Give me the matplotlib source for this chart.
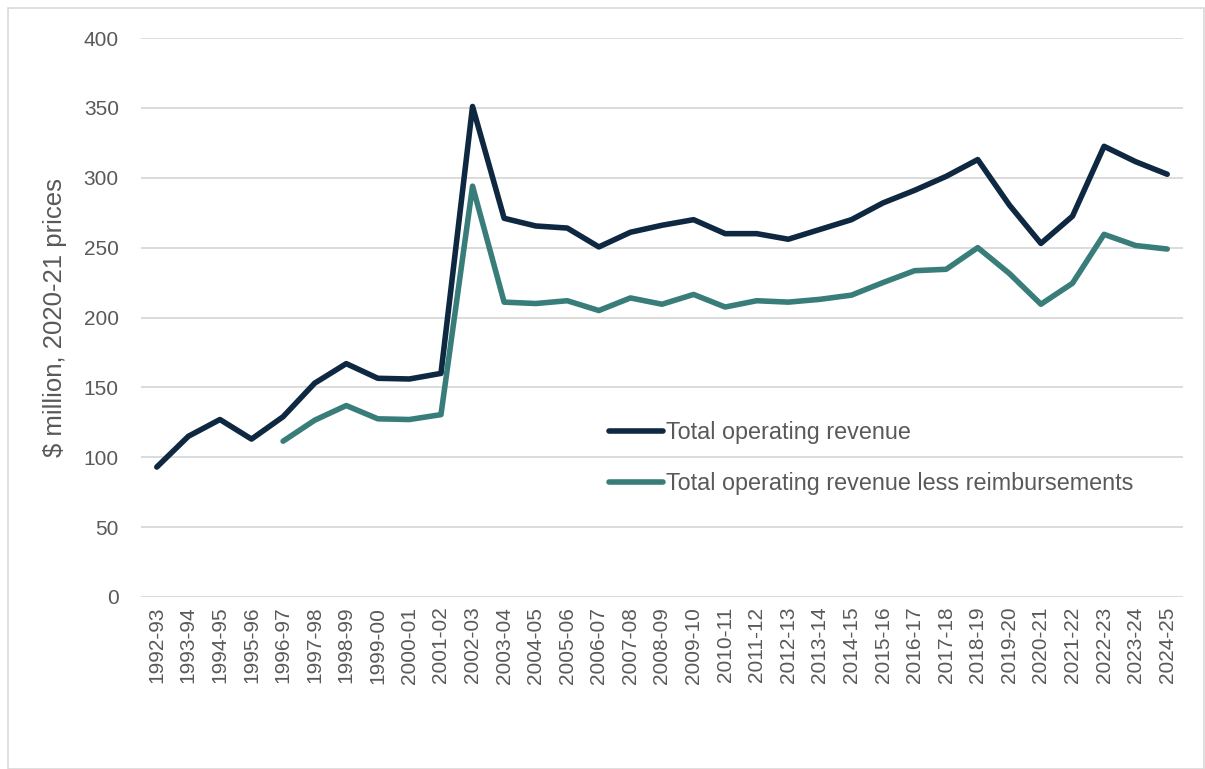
import matplotlib
matplotlib.use("Agg")
import matplotlib.pyplot as plt
from matplotlib.patches import Rectangle
import numpy as np

years = ["1992-93", "1993-94", "1994-95", "1995-96", "1996-97", "1997-98", "1998-99",
         "1999-00", "2000-01", "2001-02", "2002-03", "2003-04", "2004-05", "2005-06",
         "2006-07", "2007-08", "2008-09", "2009-10", "2010-11", "2011-12", "2012-13",
         "2013-14", "2014-15", "2015-16", "2016-17", "2017-18", "2018-19", "2019-20",
         "2020-21", "2021-22", "2022-23", "2023-24", "2024-25"]

total_revenue = [93, 115, 127, 113, 129, 153, 167, 156.5, 156, 160, 351, 271, 265.5, 264,
                 250.5, 261, 266, 270, 260, 260, 256, 263, 270, 282, 291, 301, 313,
                 280.5, 253, 272.5, 322.5, 311.5, 302.5]

less_reimb = [None, None, None, None, 111.5, 126.5, 137, 127.5, 127, 130.5, 294, 211, 210,
              212, 205, 214, 209.5, 216.5, 207.5, 212, 211, 213, 216, 225, 233.5, 234.5,
              250, 231.5, 209.5, 224.5, 259.5, 251.5, 249]

yticks = [0, 50, 100, 150, 200, 250, 300, 350, 400]
ylabel = "$ million, 2020-21 prices"
series_names = ["Total operating revenue", "Total operating revenue less reimbursements"]

plt.rcParams['font.family'] = ['Liberation Sans', 'DejaVu Sans']
fig = plt.figure(figsize=(12.05, 7.69), dpi=100)
ax = fig.add_axes([141/1205, 1-597/769, 1042/1205, 559/769])

x = np.arange(len(years))
lr = np.array([np.nan if v is None else v for v in less_reimb], dtype=float)

ax.plot(x, total_revenue, color='#0E2841', lw=4.0, solid_joinstyle='round',
        solid_capstyle='round', label=series_names[0], zorder=3)
ax.plot(x, lr, color='#387D7A', lw=4.0, solid_joinstyle='round',
        solid_capstyle='round', label=series_names[1], zorder=3)

ax.set_xlim(-0.5, len(years) - 0.5)
ax.set_ylim(0, 400)
ax.set_yticks(yticks)
ax.set_xticks(x)
ax.set_xticklabels(years, rotation=90)
ax.tick_params(axis='both', length=0, labelsize=15, colors='#595959')
ax.tick_params(axis='y', pad=16)
ax.tick_params(axis='x', pad=7)
ax.yaxis.grid(True, color='#D9D9D9', lw=1.3)
ax.set_axisbelow(True)
for s in ax.spines.values():
    s.set_visible(False)
ax.set_ylabel(ylabel, fontsize=18.5, color='#595959', labelpad=12)

leg = ax.legend(loc='center left', bbox_to_anchor=(0.449, 0.2485), frameon=False,
                fontsize=16.8, borderpad=0, borderaxespad=0, handlelength=2.3,
                handletextpad=0.15, labelspacing=1.2)
for t in leg.get_texts():
    t.set_color('#595959')

fig.patches.append(Rectangle((8/1205, 0), 1196/1205, 1-8/769, transform=fig.transFigure,
                             fill=False, edgecolor='#D9D9D9', lw=1.2))

fig.savefig("out.png", dpi=100)
